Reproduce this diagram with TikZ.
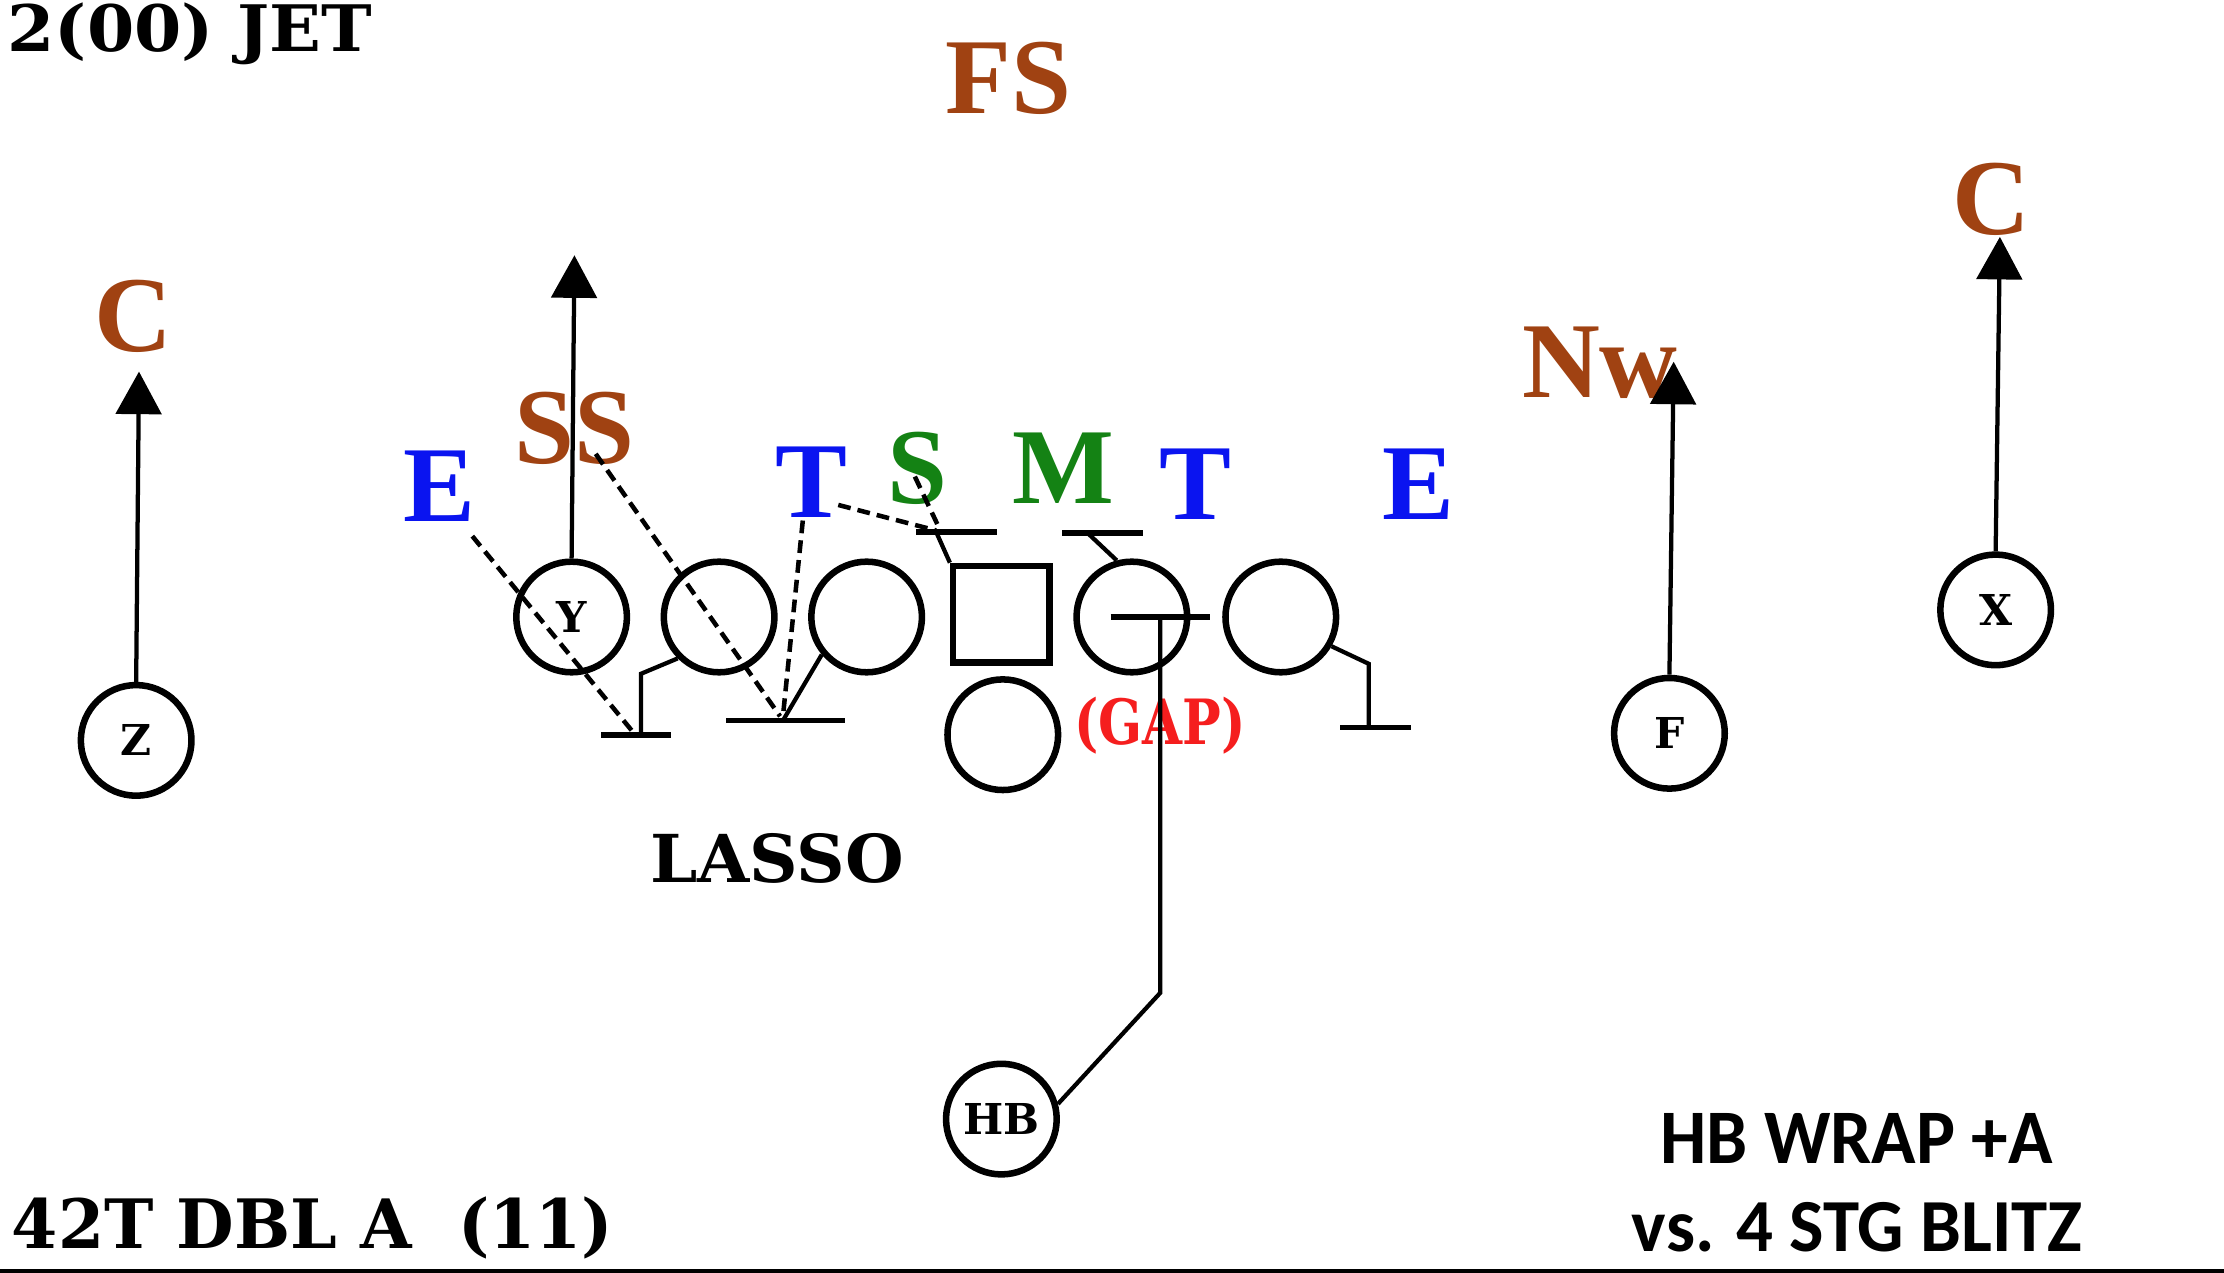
\documentclass[tikz,border=0pt]{standalone}
\usepackage{fontspec}
\usepackage{graphicx}
\usetikzlibrary{arrows.meta}
\setmainfont{Liberation Serif}
\newfontfamily\posfont{Liberation Serif}[BoldFont={Liberation Serif Bold}]
\newfontfamily\slabfont{DejaVu Serif}
\newfontfamily\calfont{Carlito}
\definecolor{brn}{RGB}{160,66,18}
\definecolor{blu}{RGB}{10,20,240}
\definecolor{grn}{RGB}{20,130,20}
\definecolor{redc}{RGB}{245,30,30}
\newcommand{\fitw}[2]{\resizebox{#1}{\height}{#2}}
\begin{document}
\begin{tikzpicture}[x=0.5pt,y=-0.5pt,
  player/.style={circle,draw,line width=2.3pt,minimum size=39pt,inner sep=0pt,
     font=\slabfont\bfseries\fontsize{15}{16}\selectfont},
  olbox/.style={rectangle,draw,line width=2.3pt,minimum size=34pt,inner sep=0pt},
  poslbl/.style={anchor=base,inner sep=0pt,font=\posfont\bfseries\fontsize{38}{40}\selectfont},
  slab/.style={anchor=base west,inner sep=0pt},
  route/.style={line width=1.5pt,-{Triangle[length=15pt,width=16pt]}},
  blk/.style={line width=1.5pt},
  bar/.style={line width=2pt},
  rdash/.style={line width=1.6pt,dash pattern=on 4.5pt off 2.5pt}]
\useasboundingbox (0,0) rectangle (1568,897.5);
\fill[white] (0,0) rectangle (1568,897.5);

% titles
\node[slab] (title) at (5,36) {\slabfont\bfseries\fontsize{22.6}{24}\selectfont\fitw{128.5pt}{2(00) JET}};
\node[slab] (form) at (8,880) {\slabfont\bfseries\fontsize{24}{26}\selectfont\fitw{212pt}{42T DBL A\ \ (11)}};
\node[slab] (lasso) at (458,622) {\slabfont\bfseries\fontsize{23.3}{25}\selectfont\fitw{89.5pt}{LASSO}};
\node[slab] (play1) at (1170,820) {\calfont\bfseries\fontsize{27.2}{29}\selectfont\fitw{138.5pt}{HB WRAP +A}};
\node[slab] (play2) at (1150,882) {\calfont\bfseries\fontsize{26.4}{28}\selectfont\fitw{159pt}{vs. 4 STG BLITZ}};

% defense labels
\node[poslbl,text=brn] (FS) at (711,80) {FS};
\node[poslbl,text=brn] (CL) at (94,248) {C};
\node[poslbl,text=brn] (CR) at (1404,165) {C};
\node[poslbl,text=brn] (NW) at (1128,280) {Nw};
\node[poslbl,text=brn] (SS) at (405,327) {SS};
\node[poslbl,text=blu] (EL) at (310,368) {E};
\node[poslbl,text=blu] (TL) at (572,365) {T};
\node[poslbl,text=grn] (SL) at (647,355) {S};
\node[poslbl,text=grn] (ML) at (750,355) {M};
\node[poslbl,text=blu] (TR) at (843,366) {T};
\node[poslbl,text=blu] (ER) at (1000,366) {E};

% offense
\node[player] (Y) at (403,435) {Y};
\node[player] (LG) at (507,435) {};
\node[player] (LT) at (611,435) {};
\node[olbox] (CEN) at (706,433) {};
\node[player] (RG) at (798,435) {};
\node[player] (RT) at (903,435) {};
\node[player] (QB) at (707,518) {};
\node[player] (Z) at (96,522) {Z};
\node[player] (X) at (1407,430) {X};
\node[player] (F) at (1177,517) {F};
\node[player] (HB) at (706,789) {HB};

% GAP label
\node[slab] (gap) at (757,525) {\slabfont\bfseries\fontsize{22}{24}\selectfont\color{redc}\fitw{60.5pt}{(GAP)}};

% routes
\coordinate (zt) at (98,262);
\coordinate (yt) at (405,180);
\coordinate (ft) at (1180,255);
\coordinate (xt) at (1410,167);
\draw[route] (Z.north) -- (zt);
\draw[route] (Y.north) -- (yt);
\draw[route] (F.north) -- (ft);
\draw[route] (X.north) -- (xt);

% HB wrap
\coordinate (hb1) at (818,700);
\coordinate (hb2) at (818,435);
\coordinate (hbl) at (783,435);
\coordinate (hbr) at (853,435);
\draw[blk] (HB.15) -- (hb1) -- (hb2);
\draw[bar] (hbl) -- (hbr);

% blocks
\coordinate (lg1) at (452,475);
\coordinate (lg2) at (452,518);
\draw[blk] (LG.225) -- (lg1) -- (lg2);
\draw[bar] (424,518) coordinate (lgb1) -- (473,518) coordinate (lgb2);

\coordinate (lt1) at (552,508);
\draw[blk] (LT.220) -- (lt1);
\draw[bar] (512,508) coordinate (ltb1) -- (596,508) coordinate (ltb2);

\coordinate (c1) at (660,375);
\draw[blk] (CEN.north west) -- (c1);
\draw[bar] (646,375) coordinate (cb1) -- (703,375) coordinate (cb2);

\coordinate (rg1) at (767,376);
\draw[blk] (RG.105) -- (rg1);
\draw[bar] (749,376) coordinate (rgb1) -- (806,376) coordinate (rgb2);

\coordinate (rt1) at (965,468);
\coordinate (rt2) at (965,513);
\draw[blk] (RT.-30) -- (rt1) -- (rt2);
\draw[bar] (945,513) coordinate (rtb1) -- (995,513) coordinate (rtb2);

% defender reads (dashed)
\draw[rdash] (333,378) coordinate (e1) -- (447,517);
\draw[rdash] (420,320) coordinate (s1) -- (550,505);
\draw[rdash] (566,367) coordinate (t1) -- (552,505);
\draw[rdash] (591,356) coordinate (t2) -- (660,374);
\draw[rdash] (645,336) coordinate (s2) -- (662,372);

% bottom rule
\draw[line width=2pt] (0,896.5) coordinate (bl) -- (1568,896.5) coordinate (br);
\end{tikzpicture}
\end{document}
